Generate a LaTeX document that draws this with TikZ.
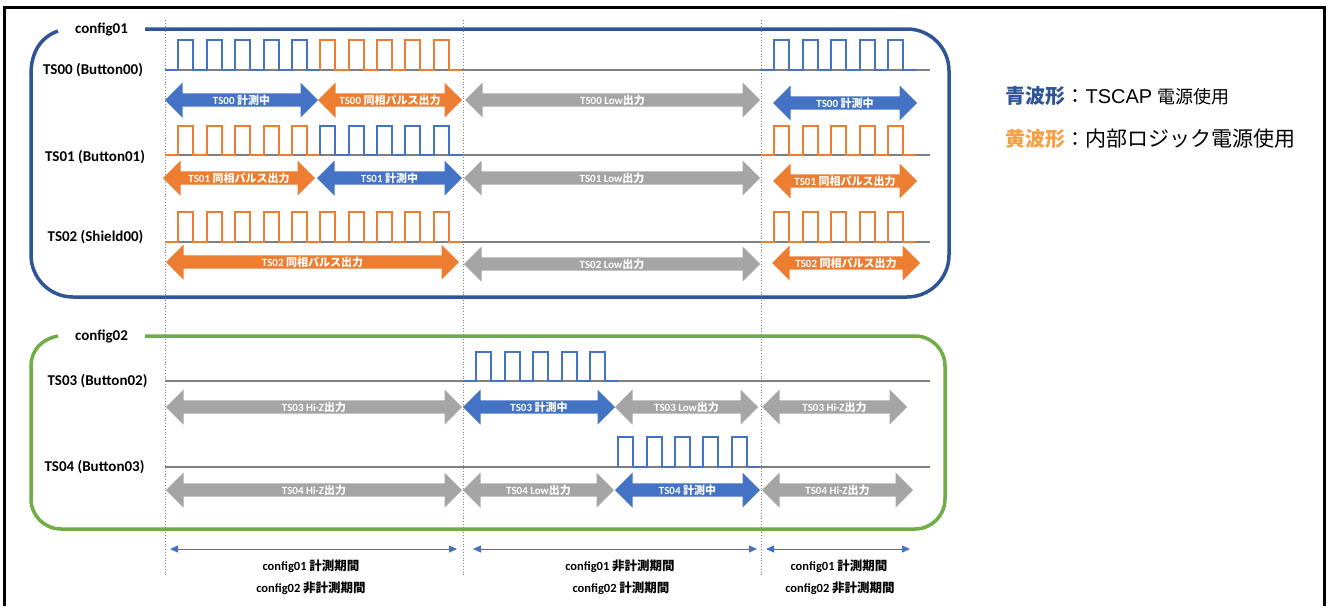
\documentclass[tikz,border=0pt]{standalone}
\usepackage{fontspec}
\setmainfont{Carlito}
\newfontfamily\jp{Noto Sans CJK JP}
\newfontfamily\lsans{Liberation Sans}
\usetikzlibrary{shapes.arrows,arrows.meta}
\definecolor{wblue}{HTML}{4472C4}
\definecolor{worange}{HTML}{ED7D31}
\definecolor{agray}{HTML}{A5A5A5}
\definecolor{bblue}{HTML}{2F5597}
\definecolor{bgreen}{HTML}{70AD47}
\definecolor{lorange}{HTML}{F4A043}
\definecolor{basegray}{HTML}{7F7F7F}
\def\hH{15.0}
\def\hL{13.38}
% #1 colour, #2 x0, #3 y low, #4 y high, #5 pulses, #6 leading low half (0/1)
\newcommand\sigwave[6]{%
  \draw[wave,#1] (#2,#3) foreach \k in {1,...,#5}{
    -- ({#2+#6*\hL+(\k-1)*(\hH+\hL)},#3) -- ({#2+#6*\hL+(\k-1)*(\hH+\hL)},#4)
    -- ({#2+#6*\hL+(\k-1)*(\hH+\hL)+\hH},#4) -- ({#2+#6*\hL+(\k-1)*(\hH+\hL)+\hH},#3)}
    -- ({#2+#6*\hL+#5*(\hH+\hL)},#3);}
\tikzset{
  wave/.style={line width=2pt},
  baseln/.style={draw=basegray,line width=1.1pt},
  darr/.style={double arrow, double arrow head extend=9pt, double arrow tip angle=90,
     minimum width=35pt, inner sep=0pt, fill=#1, text=white,
     font=\bfseries\fontsize{11}{12}\selectfont},
  lbl/.style={anchor=base, font=\bfseries\fontsize{15}{17}\selectfont},
  blbl/.style={anchor=base, font=\bfseries\fontsize{12.5}{14}\selectfont},
  cfgbox/.style={line width=3.5pt},
  divline/.style={draw=gray, dotted, line width=0.8pt},
  period/.style={draw=wblue, line width=1pt, {Triangle[length=8pt,width=7pt]}-{Triangle[length=8pt,width=7pt]}},
  legend/.style={anchor=base west, font=\fontsize{20}{24}\selectfont},
}
\begin{document}
\begin{tikzpicture}[x=1pt,y=-1pt]
\useasboundingbox (0,0) rectangle (1328,606);
\fill[white] (0,0) rectangle (1328,606);
% outer frame
\draw[line width=3pt] (4.5,606) -- (4.5,7.5) -- (1324.5,7.5) -- (1324.5,606);
% config boxes
\draw[cfgbox, draw=bblue] (58,31) .. controls (41,37) and (31,52) .. (31,74);
\draw[cfgbox, draw=bblue, rounded corners=42pt] (31,73) -- (31,297) -- (949,297) -- (949,29) -- (145,29);
\draw[cfgbox, draw=bgreen] (58,336) .. controls (42,339) and (31,350) .. (31,366);
\draw[cfgbox, draw=bgreen, rounded corners=30pt] (31,365) -- (31,529) -- (945,529) -- (945,336) -- (145,336);
\node[lbl] (cfg1) at (101.5,33.5) {config01};
\node[lbl] (cfg2) at (101.5,340) {config02};
% dotted dividers
\coordinate (d1t) at (165,20); \coordinate (d1b) at (165,576);
\coordinate (d2t) at (463,20); \coordinate (d2b) at (463,576);
\coordinate (d3t) at (761,20); \coordinate (d3b) at (761,576);
\draw[divline] (d1t) -- (d1b);
\draw[divline] (d2t) -- (d2b);
\draw[divline] (d3t) -- (d3b);
% signal labels
\node[lbl] (n0) at (93,74) {TS00 (Button00)};
\node[lbl] (n1) at (95,161) {TS01 (Button01)};
\node[lbl] (n2) at (95.5,241) {TS02 (Shield00)};
\node[lbl] (n3) at (97.5,385.5) {TS03 (Button02)};
\node[lbl] (n4) at (94.5,471.5) {TS04 (Button03)};
% baselines
\draw[baseln] (165,70) -- (930,70);
\draw[baseln] (165,155) -- (930,155);
\draw[baseln] (165,242) -- (930,242);
\draw[baseln] (165,381) -- (930,381);
\draw[baseln] (165,467) -- (930,467);
% waveforms
\sigwave{wblue}{165}{70}{40}{5}{1}
\sigwave{worange}{320.3}{70}{40}{5}{0}
\sigwave{wblue}{761}{70}{40}{5}{1}
\sigwave{worange}{165}{155}{126}{5}{1}
\sigwave{wblue}{320.3}{155}{126}{5}{0}
\sigwave{worange}{761}{155}{126}{5}{1}
\sigwave{worange}{165}{242}{212}{10}{1}
\sigwave{worange}{761}{242}{212}{5}{1}
\sigwave{wblue}{463}{381}{352}{5}{1}
\sigwave{wblue}{618.3}{467}{437}{5}{0}
% block arrows TS00
\node[darr=wblue, minimum height=153pt] (a0a) at (241.5,100) {TS00 \jp 計測中};
\node[darr=worange, minimum height=144pt] (a0b) at (390,100) {TS00 \jp 同相パルス出力};
\node[darr=agray, minimum height=295pt] (a0c) at (612.5,100) {TS00 Low\jp 出力};
\node[darr=wblue, minimum height=144pt] (a0d) at (845,103) {TS00 \jp 計測中};
% TS01
\node[darr=worange, minimum height=152pt] (a1a) at (239,178) {TS01 \jp 同相パルス出力};
\node[darr=wblue, minimum height=145pt] (a1b) at (389.5,178) {TS01 \jp 計測中};
\node[darr=agray, minimum height=296pt] (a1c) at (612,178) {TS01 Low\jp 出力};
\node[darr=worange, minimum height=144pt] (a1d) at (845,181) {TS01 \jp 同相パルス出力};
% TS02
\node[darr=worange, minimum height=293pt] (a2a) at (312.5,262) {TS02 \jp 同相パルス出力};
\node[darr=agray, minimum height=296pt] (a2c) at (612,264) {TS02 Low\jp 出力};
\node[darr=worange, minimum height=148pt] (a2d) at (846,263) {TS02 \jp 同相パルス出力};
% TS03
\node[darr=agray, minimum height=296pt] (a3a) at (314,407) {TS03 Hi-Z\jp 出力};
\node[darr=wblue, minimum height=152pt] (a3b) at (539,407) {TS03 \jp 計測中};
\node[darr=agray, minimum height=143pt] (a3c) at (686.5,407) {TS03 Low\jp 出力};
\node[darr=agray, minimum height=145pt] (a3d) at (834.5,407) {TS03 Hi-Z\jp 出力};
% TS04
\node[darr=agray, minimum height=296pt] (a4a) at (314,490) {TS04 Hi-Z\jp 出力};
\node[darr=agray, minimum height=151pt] (a4b) at (538.5,490) {TS04 Low\jp 出力};
\node[darr=wblue, minimum height=145pt] (a4c) at (687.5,490) {TS04 \jp 計測中};
\node[darr=agray, minimum height=151pt] (a4d) at (837.5,490) {TS04 Hi-Z\jp 出力};
% period arrows
\coordinate (p1a) at (170,549); \coordinate (p1b) at (457,549);
\coordinate (p2a) at (473,549); \coordinate (p2b) at (757,549);
\coordinate (p3a) at (766,549); \coordinate (p3b) at (910,549);
\draw[period] (p1a) -- (p1b);
\draw[period] (p2a) -- (p2b);
\draw[period] (p3a) -- (p3b);
\node[blbl] (b1a) at (311,570) {config01 \jp 計測期間};
\node[blbl] (b1b) at (311,592.5) {config02 \jp 非計測期間};
\node[blbl] (b2a) at (620,570) {config01 \jp 非計測期間};
\node[blbl] (b2b) at (621,592.5) {config02 \jp 計測期間};
\node[blbl] (b3a) at (839,570) {config01 \jp 計測期間};
\node[blbl] (b3b) at (840,592.5) {config02 \jp 非計測期間};
% legend
\node[legend] (lg1) at (1002,103) {{\jp\bfseries\color{bblue}青波形}{\jp ：}{\lsans TSCAP }{\jp\fontsize{18}{22}\selectfont 電源使用}};
\node[legend] (lg2) at (1002,146) {{\jp\bfseries\color{lorange}黄波形}{\jp ：\fontsize{21}{24}\selectfont 内部ロジック電源使用}};
\end{tikzpicture}
\end{document}
